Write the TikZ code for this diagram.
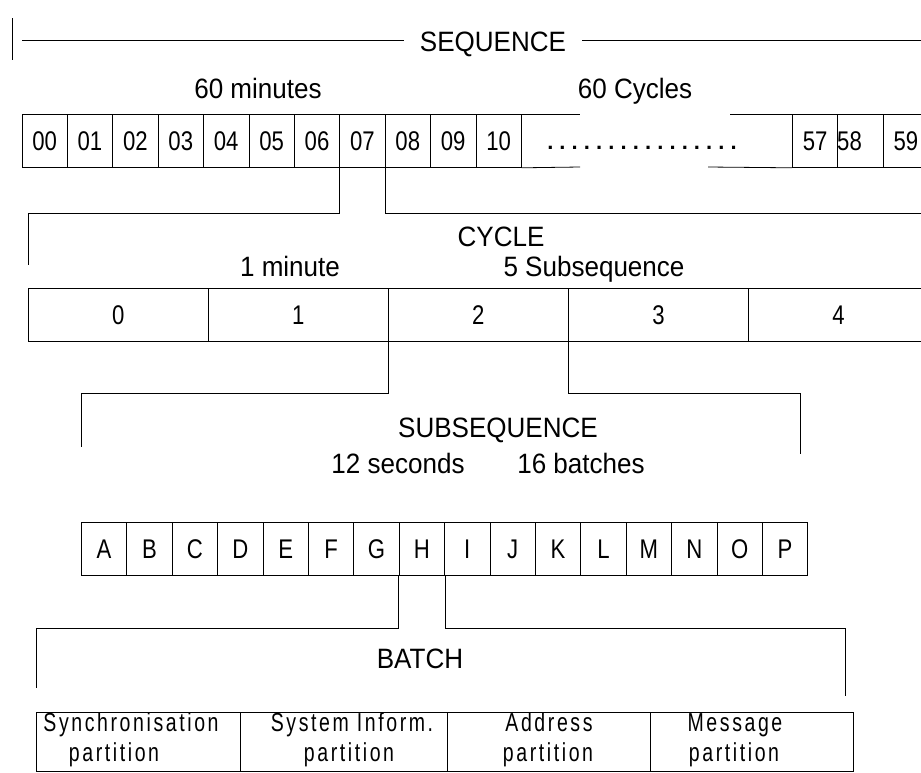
\documentclass[tikz,border=0pt]{standalone}
\usepackage{fontspec}
\setmainfont{Liberation Sans}
\newfontfamily\lblfont[FakeStretch=0.93]{Liberation Sans}
\newfontfamily\boxfont[FakeStretch=0.82]{Liberation Sans}
\newfontfamily\partfont[FakeStretch=0.75,LetterSpace=10]{Liberation Sans}
\usetikzlibrary{calc}
\begin{document}
\begin{tikzpicture}[x=1pt,y=-1pt,line width=0.8pt,
  lbl/.style={font=\lblfont\fontsize{28}{32}\selectfont,inner sep=0pt,anchor=base},
  cell/.style={draw,minimum width=45.4pt,minimum height=53pt,inner sep=0pt,anchor=north west,
    font=\boxfont\fontsize{27}{30}\selectfont},
  bigcell/.style={cell,minimum width=180pt},
  partcell/.style={draw,minimum height=59pt,inner sep=0pt,anchor=north west},
  parttext/.style={font=\partfont\fontsize{26}{31}\selectfont,inner sep=0pt,anchor=base}]
\useasboundingbox (0,0) rectangle (921,772);

% ---------- SEQUENCE ----------
\coordinate (barT) at (12,18);
\coordinate (barB) at (12,60);
\draw (barT) -- (barB);
\node[lbl,inner xsep=16pt] (seq) at (493,51) {SEQUENCE};
\coordinate (seqL) at (22,40);
\coordinate (seqR) at (921,40);
\draw (seqL) -- (seq.west |- seqL);
\draw (seq.east |- seqR) -- (seqR);
\node[lbl] (min60) at (258,98) {60 minutes};
\node[lbl] (cyc60) at (635,98) {60 Cycles};

\foreach \t [count=\i from 0] in {00,01,02,03,04,05,06,07,08,09,10}
  \node[cell] (c\t) at ({21.5+45.4*\i},114) {\t};
\node[cell] (c57) at (792,114) {57};
\node[cell] (c58) at (837.4,114) {\hspace*{-22pt}58};
\node[cell] (c59) at (882.8,114) {59};
\coordinate (gapTL) at (580,114);
\coordinate (gapTR) at (730,114);
\coordinate (gapBL) at (580,167);
\coordinate (gapBR) at (708,167);
\draw (c10.north east) -- (gapTL);
\draw (gapTR) -- (c57.north west);
\draw (c10.south east) -- (gapBL);
\draw (gapBR) -- (c57.south west);
\node[font=\bfseries\fontsize{22}{26}\selectfont\frenchspacing,inner sep=0pt,anchor=base] (dots) at (642,149)
  {. . . . . . . . . . . . . . . .};

% ---------- CYCLE ----------
\coordinate (lvl1) at (0,213);
\coordinate (cycL) at (28,265);
\coordinate (cycR) at (921,213);
\draw (c07.south west) |- (cycL |- lvl1) -- (cycL);
\draw (c07.south east) |- (cycR);
\node[lbl] (cyc) at (501,246) {CYCLE};
\node[lbl] (min1) at (290,276) {1 minute};
\node[lbl] (sub5) at (594,276) {5 Subsequence};
\foreach \t [count=\i from 0] in {0,1,2,3,4}
  \node[bigcell] (y\t) at ({28+180*\i},288) {\t};

% ---------- SUBSEQUENCE ----------
\coordinate (lvl2) at (0,393);
\coordinate (subL) at (81,447);
\coordinate (subR) at (800,454);
\draw (y2.south west) |- (subL |- lvl2) -- (subL);
\draw (y2.south east) |- (subR |- lvl2) -- (subR);
\node[lbl] (subseq) at (498,437) {SUBSEQUENCE};
\node[lbl] (sec12) at (398,473) {12 seconds};
\node[lbl] (bat16) at (581,473) {16 batches};
\foreach \t [count=\i from 0] in {A,B,C,D,E,F,G,H,I,J,K,L,M,N,O,P}
  \node[cell] (l\t) at ({81+45.4*\i},522) {\t};

% ---------- BATCH ----------
\coordinate (lvl3) at (0,628);
\coordinate (batL) at (36,688);
\coordinate (batR) at (845,696);
\draw (lH.south west) |- (batL |- lvl3) -- (batL);
\draw (lH.south east) |- (batR |- lvl3) -- (batR);
\node[lbl] (batch) at (420,668) {BATCH};
\node[partcell,minimum width=204pt] (p1) at (36,712) {};
\node[partcell,minimum width=207pt] (p2) at (240,712) {};
\node[partcell,minimum width=203pt] (p3) at (447,712) {};
\node[partcell,minimum width=203pt] (p4) at (650,712) {};
\node[parttext] (t1a) at (131,731) {Synchronisation};
\node[parttext] (t1b) at (114,761) {partition};
\node[parttext] (t2a) at (352,731) {System Inform.};
\node[parttext] (t2b) at (349,761) {partition};
\node[parttext] (t3a) at (549,731) {Address};
\node[parttext] (t3b) at (548,761) {partition};
\node[parttext] (t4a) at (735,731) {Message};
\node[parttext] (t4b) at (734,761) {partition};
\end{tikzpicture}
\end{document}
